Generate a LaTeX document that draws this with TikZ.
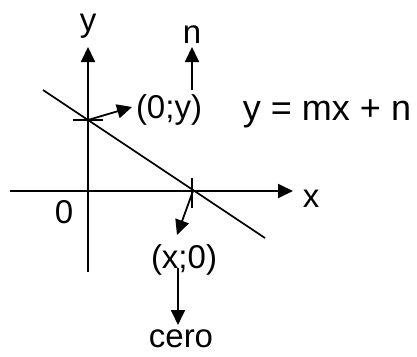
\documentclass[tikz,border=0pt]{standalone}
\usepackage{fontspec}
\setmainfont{Liberation Sans}
\usetikzlibrary{arrows.meta}
\begin{document}
\begin{tikzpicture}[x=1pt,y=-1pt,line width=1.8pt,
  arr/.style={-{Triangle[length=15pt,width=14pt]}},
  lbl/.style={anchor=base,inner sep=0pt,font=\fontsize{33}{40}\selectfont}]
\useasboundingbox (0,0) rectangle (417,356);
% points
\coordinate (ybot) at (88,272);
\coordinate (ytop) at (88,47);
\coordinate (xleft) at (10,191);
\coordinate (xright) at (293,191);
\coordinate (lstart) at (43,90);
\coordinate (lend) at (265,238);
\coordinate (yint) at (88,120);
\coordinate (xint) at (193,191);
\coordinate (ytickl) at (73,120);
\coordinate (ytickr) at (103,120);
\coordinate (xtickt) at (192,178);
\coordinate (xtickb) at (192,208);
\coordinate (ytip) at (132,107);
\coordinate (nbot) at (192,90);
\coordinate (ntip) at (192,47);
\coordinate (xtip) at (177,235);
\coordinate (cerotop) at (178,268);
\coordinate (cerotip) at (178,325);
% labels
\node[lbl] (ylab) at (88,31) {y};
\node[lbl] (xlab) at (311,207) {x};
\node[lbl] (zero) at (64,223) {0};
\node[lbl] (nlab) at (192,43) {n};
\node[lbl] (yi) at (169,118) {(0;y)};
\node[lbl] (xi) at (184,268) {(x;0)};
\node[lbl] (cero) at (181,347) {cero};
\node[lbl,font=\fontsize{36}{43}\selectfont] (eq) at (327,120) {y = mx + n};
% axes
\draw[arr] (ybot) -- (ytop);
\draw[arr] (xleft) -- (xright);
% line
\draw (lstart) -- (lend);
% ticks
\draw (ytickl) -- (ytickr);
\draw (xtickt) -- (xtickb);
% arrows
\draw[arr] (yint) -- (ytip);
\draw[arr] (nbot) -- (ntip);
\draw[arr] (xint) -- (xtip);
\draw[arr] (cerotop) -- (cerotip);
\end{tikzpicture}
\end{document}
